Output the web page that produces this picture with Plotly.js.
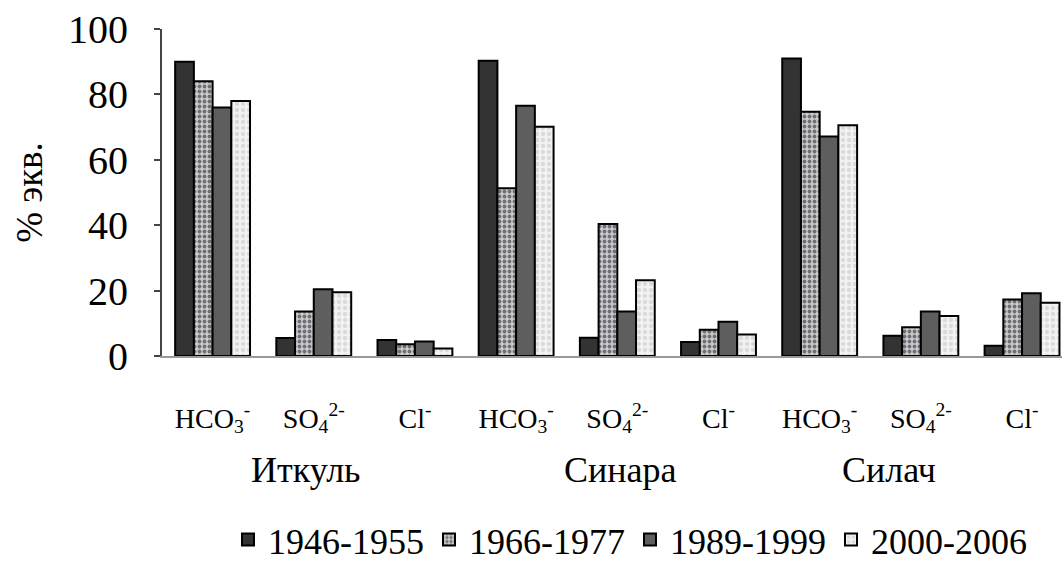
<!DOCTYPE html>
<html>
<head>
<meta charset="utf-8">
<script src="https://cdn.plot.ly/plotly-3.0.1.min.js"></script>
<style>html,body{margin:0;padding:0;background:#fff;}#chart{width:1062px;height:565px;}</style>
</head>
<body>
<div id="chart"></div>
<script>
// Data
const lakes = ["Иткуль", "Синара", "Силач"];
const ions = ["HCO<sub>3</sub><sup>-</sup>", "SO<sub>4</sub><sup>2-</sup>", "Cl<sup>-</sup>"];
const periods = ["1946-1955", "1966-1977", "1989-1999", "2000-2006"];
// values per period, ordered: Иткуль (HCO3, SO4, Cl), Синара (...), Силач (...)
const v1946 = [90, 5.5, 4.9, 90.3, 5.6, 4.3, 91, 6.2, 3.1];
const v1966 = [84, 13.6, 3.6, 51.3, 40.4, 8, 74.7, 8.8, 17.3];
const v1989 = [76, 20.4, 4.4, 76.5, 13.6, 10.5, 67.1, 13.6, 19.2];
const v2000 = [78, 19.5, 2.3, 70.1, 23.2, 6.6, 70.6, 12.2, 16.3];
const series = [v1946, v1966, v1989, v2000];

const xs = [];
const tickText = [];
lakes.forEach((l, i) => ions.forEach((ion, j) => { xs.push(i * ions.length + j); tickText.push(ion); }));

const styles = [
  {color: "#333333", pattern: {shape: ""}},
  {color: "#b0b0b4", pattern: {shape: ".", bgcolor: "#cacace", fgcolor: "#707074", size: 5, solidity: 0.45}},
  {color: "#5e5e5e", pattern: {shape: ""}},
  {color: "#efefef", pattern: {shape: ".", bgcolor: "#f2f2f2", fgcolor: "#dadada", size: 6, solidity: 0.4}}
];

const traces = series.map((vals, k) => ({
  type: "bar",
  name: periods[k],
  x: xs,
  y: vals,
  marker: {color: styles[k].color, pattern: styles[k].pattern, line: {color: "#000", width: 2}},
  hoverinfo: "y"
}));

const font = "Liberation Serif";
const lakeCenters = [0.92, 4.03, 6.69];
const annotations = lakes.map((l, i) => ({
  text: l, x: lakeCenters[i], xref: "x", y: 0, yref: "paper", yshift: -114,
  showarrow: false, xanchor: "center", yanchor: "middle",
  font: {family: font, size: 36, color: "#000"}
}));

const layout = {
  width: 1062, height: 565,
  margin: {l: 162, r: 0, t: 29, b: 209},
  paper_bgcolor: "#fff", plot_bgcolor: "#fff",
  barmode: "group", bargap: 0.26, bargroupgap: 0,
  font: {family: font, color: "#000"},
  xaxis: {
    range: [-0.5, 8.395], tickvals: xs, ticktext: tickText,
    showline: true, linecolor: "#999", linewidth: 2, ticks: "", showgrid: false,
    zeroline: false, ticklabelstandoff: 36,
    tickfont: {family: font, size: 28, color: "#000"}, fixedrange: true
  },
  yaxis: {
    range: [0, 100], tickvals: [0, 20, 40, 60, 80, 100],
    showline: true, linecolor: "#444", linewidth: 2, ticks: "outside", ticklen: 6, tickcolor: "#444", tickwidth: 2,
    showgrid: false, zeroline: false, ticklabelstandoff: 18,
    tickfont: {family: font, size: 40, color: "#000"},
    title: {text: "% экв.", font: {family: font, size: 37, color: "#000"}, standoff: 14}
  },
  showlegend: true,
  legend: {orientation: "h", x: 0.52, xanchor: "center", y: 0.045, yanchor: "middle", yref: "container",
    font: {family: font, size: 36, color: "#000"}, itemwidth: 30, traceorder: "normal"},
  annotations: annotations
};

Plotly.newPlot("chart", traces, layout, {displayModeBar: false, staticPlot: true});
</script>
</body>
</html>
